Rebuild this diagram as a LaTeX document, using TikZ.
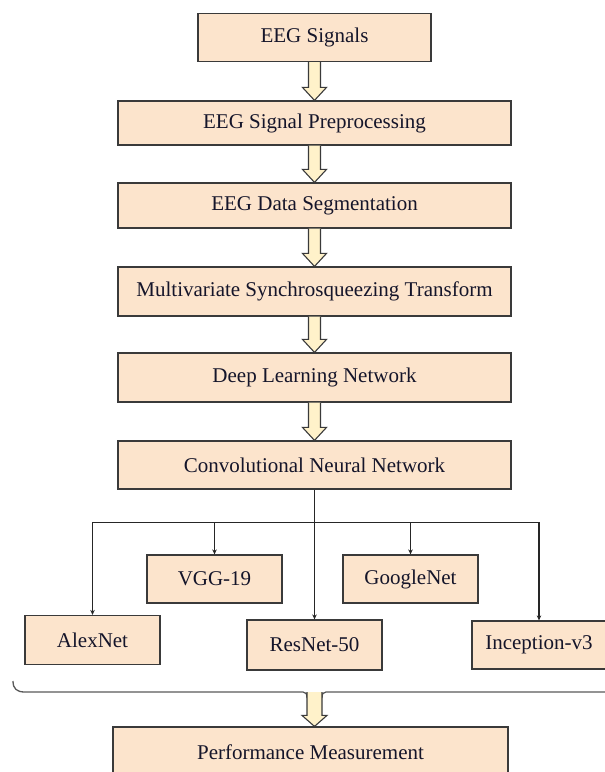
\documentclass[tikz,border=0pt]{standalone}
\usepackage{fontspec}
\setmainfont{Liberation Serif}
\usetikzlibrary{calc,arrows.meta}
\definecolor{boxfill}{HTML}{FCE4CC}
\definecolor{arrfill}{HTML}{FFF2CA}
\definecolor{edgecol}{HTML}{3A3A3A}
\definecolor{txtcol}{HTML}{15152A}
\tikzset{
  box/.style={draw=edgecol, line width=1.2pt, fill=boxfill, inner sep=0pt,
    font=\fontsize{21}{25}\selectfont, text=txtcol},
  barrow/.style={draw=edgecol, line width=1.1pt, fill=arrfill, line join=miter},
  link/.style={draw=black!85, line width=1.1pt, -{Stealth[length=5pt,width=4.5pt]}},
  bracestyle/.style={draw=black!65, line width=1.3pt}
}
\newcommand{\blockarr}[2]{%
  \draw[barrow] ($(#1)+(-6,0)$) -- ($(#2)+(-6,-13)$) -- ($(#2)+(-12,-13)$) -- (#2)
    -- ($(#2)+(12,-13)$) -- ($(#2)+(6,-13)$) -- ($(#1)+(6,0)$);}
\begin{document}
\begin{tikzpicture}[x=1pt,y=-1pt]
\useasboundingbox (0,0) rectangle (605,772);
\begin{scope}
\clip (0,0) rectangle (605,772);
% main chain
\node[box, minimum width=233, minimum height=48] (sig) at (314.5,37.5) {EEG Signals};
\node[box, minimum width=393, minimum height=44] (pre) at (314.5,123) {EEG Signal Preprocessing};
\node[box, minimum width=393, minimum height=45] (seg) at (314.5,205.5) {EEG Data Segmentation};
\node[box, minimum width=393, minimum height=49] (mst) at (314.5,291.5) {Multivariate Synchrosqueezing Transform};
\node[box, minimum width=393, minimum height=49] (dln) at (314.5,377.5) {Deep Learning Network};
\node[box, minimum width=393, minimum height=48] (cnn) at (314.5,465) {Convolutional Neural Network};
% networks
\node[box, minimum width=135, minimum height=49] (alex) at (92.5,640) {AlexNet};
\node[box, minimum width=135, minimum height=48] (vgg) at (214.5,579) {VGG-19};
\node[box, minimum width=135, minimum height=48] (goog) at (410.5,579) {GoogleNet};
\node[box, minimum width=135, minimum height=50] (res) at (314.5,645) {ResNet-50};
\node[box, minimum width=134, minimum height=48] (inc) at (539,645) {Inception-v3};
\node[box, minimum width=395, minimum height=50] (perf) at (310.5,752) {Performance Measurement};
% block arrows
\blockarr{sig.south}{pre.north}
\blockarr{pre.south}{seg.north}
\blockarr{seg.south}{mst.north}
\blockarr{mst.south}{dln.north}
\blockarr{dln.south}{cnn.north}
% branching
\coordinate (bus) at ($(cnn.south)+(0,33)$);
\draw[link] (cnn.south) -- (cnn.south |- res.north);
\draw[link] (bus) -| (alex.north);
\draw[link] (bus) -| (vgg.north);
\draw[link] (bus) -| (goog.north);
\draw[link] (bus) -| (inc.north);
% brace
\coordinate (bl) at (13,681);
\coordinate (bt) at (314.5,692);
\coordinate (ptip) at (bt |- perf.north);
\draw[bracestyle] (bl) .. controls (13,689) and (17,692) .. (25,692) -- (303,692)
   .. controls (306,692) and (307,694) .. (307,698);
\draw[bracestyle] (322,698) .. controls (322,694) and (323,692) .. (326,692) -- (615,692);
\draw[barrow] ($(bt)+(-7.5,0)$) -- ($(ptip)+(-7.5,-11)$) -- ($(ptip)+(-12.5,-11)$) -- (ptip)
    -- ($(ptip)+(12.5,-11)$) -- ($(ptip)+(7.5,-11)$) -- ($(bt)+(7.5,0)$);
\end{scope}
\end{tikzpicture}
\end{document}
